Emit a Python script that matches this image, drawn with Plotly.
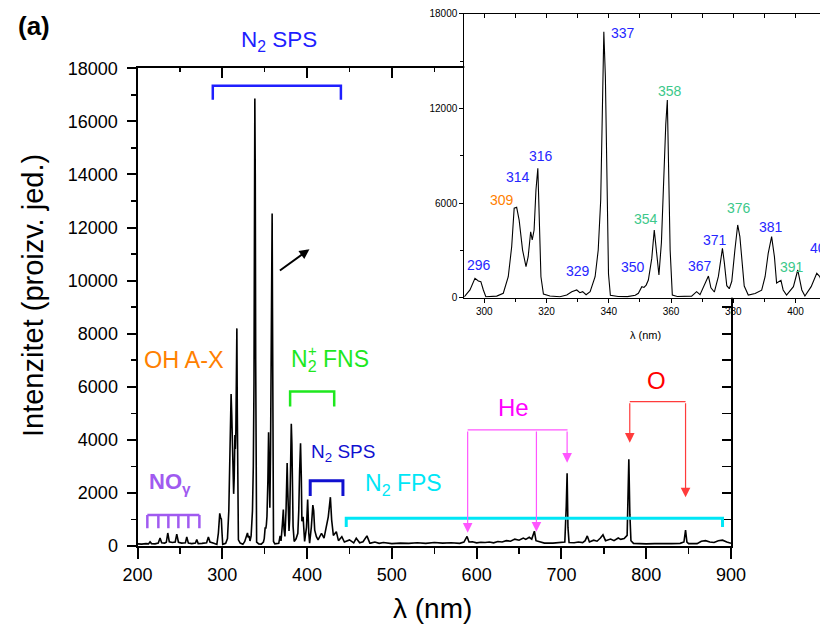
import plotly.graph_objects as go

# ---------------- data ----------------
# UV part, NO-gamma region
wl_uv = [200, 205, 210, 213, 214.8, 216.5, 220.7, 224.5, 226.6, 228.5, 232, 234, 235.7, 237.5,
         241, 244.5, 246.3, 248.3, 252, 256.5, 258.1, 260, 264, 268.3, 269.9, 271.6, 276,
         281.5, 283.6, 285.5, 290]
int_uv = [80, 70, 90, 80, 160, 90, 80, 110, 300, 120, 110, 140, 490, 160, 130, 150, 450, 140,
          110, 120, 340, 110, 90, 110, 240, 90, 100, 120, 340, 150, 100]

# N2 SPS / OH / N2+ FNS region (also shown in the inset)
wl_n2 = [293.6, 295.4, 297.0, 298.1, 298.9, 299.7, 300.5, 304.0, 306.1, 307.7, 308.8, 309.6,
         310.4, 311.2, 312.3, 313.4, 314.1, 314.9, 315.4, 316.0, 316.6, 317.2, 317.7, 318.2,
         319.0, 321.1, 324.3, 326.5, 328.1, 329.7, 330.7, 331.6, 332.7, 334.0, 335.6, 336.6,
         337.4, 338.0, 338.4, 338.9, 339.4, 339.9, 340.5, 343.0, 346.0, 348.5, 349.5, 350.6,
         351.3, 352.0, 352.7, 353.8, 354.6, 355.3, 356.1, 356.9, 357.7, 358.3, 358.8, 359.2,
         359.7, 360.4, 362.0, 366.6, 368.2, 369.3, 370.9, 372.0, 372.8, 373.9, 375.2, 376.0,
         376.5, 377.1, 377.9, 378.7, 379.5, 380.5, 381.4, 382.1, 382.7, 383.5, 384.8, 387.0,
         389.1, 390.2, 391.2, 392.3, 393.2, 393.9, 395.3, 396.0, 397.1, 399.3, 400.7, 402.0,
         403.0, 405.0, 406.8, 407.8, 409.0, 411.0, 413.0, 417.0, 420.0, 425.0, 427.5, 429.0,
         431.0, 434.5, 437.0, 441.0, 444.0, 450.0, 455.0, 458.0, 462.0, 466.0, 470.6, 474.0]
int_n2 = [60, 490, 1230, 1060, 1015, 490, 63, 100, 280, 1330, 3230, 5670,
          5730, 4920, 3020, 1965, 2600, 4180, 3660, 4290, 6830, 8200, 5130, 1330,
          235, 110, 63, 170, 380, 490, 320, 380, 190, 380, 1330, 3020,
          6190, 12500, 16860, 14000, 7000, 1500, 150, 80, 70, 150, 280, 700,
          650, 800, 1120, 2490, 4290, 3000, 1440, 3500, 8000, 11000, 12530, 9000,
          3020, 170, 80, 100, 380, 190, 830, 1370, 630, 360, 1350, 2650,
          3130, 2240, 760, 570, 1040, 3020, 4610, 3870, 2370, 740, 170, 270,
          480, 1330, 2810, 3870, 2600, 930, 1100, 490, 170, 700, 1755, 490,
          110, 700, 1545, 1330, 600, 350, 230, 480, 300, 1100, 1840, 980,
          400, 540, 200, 350, 150, 230, 120, 290, 120, 160, 380, 110]

# visible / near-IR part (He and O lines)
wl_vis = [475, 480, 485, 490, 500, 510, 520, 530, 540, 550, 560, 570, 580, 585, 588.7,
          591, 595, 600, 605, 610, 615, 620, 625, 630, 635, 640, 645, 650, 655, 658,
          662, 665, 668.1, 670, 675, 680, 690, 700, 704, 705.7, 706.7, 707.7, 709, 715, 720,
          725, 728, 730.5, 733, 738, 742, 746, 749, 752, 758, 762, 767, 770, 774, 777.5,
          779.5, 780.7, 782, 785, 790, 800, 810, 820, 830, 840, 844.5, 846.4, 848, 850, 860,
          865, 870, 875, 880, 885, 890, 895, 900]
int_vis = [110, 150, 100, 130, 90, 110, 100, 120, 100, 130, 110, 120, 100, 150, 360,
           150, 160, 120, 140, 130, 150, 120, 170, 150, 200, 180, 260, 220, 300, 250,
           330, 260, 560, 200, 140, 110, 110, 120, 150, 1500, 2740, 700, 130, 120, 150,
           130, 200, 380, 150, 220, 180, 300, 420, 200, 260, 200, 300, 250, 280, 400,
           3270, 1200, 200, 100, 90, 80, 90, 80, 90, 100, 150, 600, 150, 90, 90,
           180, 200, 150, 130, 200, 220, 150, 100]

wavelength = wl_uv + wl_n2 + wl_vis
intensity = int_uv + int_n2 + int_vis

x_ticks_main = [200, 300, 400, 500, 600, 700, 800, 900]
x_minor_main = [250, 350, 450, 550, 650, 750, 850]
y_ticks_main = [0, 2000, 4000, 6000, 8000, 10000, 12000, 14000, 16000, 18000]
y_minor_main = [1000, 3000, 5000, 7000, 9000, 11000, 13000, 15000, 17000]
x_ticks_inset = [300, 320, 340, 360, 380, 400]
x_minor_inset = [310, 330, 350, 370, 390]
y_ticks_inset = [0, 6000, 12000, 18000]
y_minor_inset = [3000, 9000, 15000]

inset_labels = ["296", "309", "314", "316", "329", "337", "350", "354", "358",
                "367", "371", "376", "381", "391", "406"]
inset_label_kind = ["b", "o", "b", "b", "b", "b", "b", "g", "g",
                    "b", "b", "g", "b", "g", "b"]
inset_label_x = [298.4, 305.8, 310.8, 318.2, 330.0, 344.7, 347.9, 352.0, 359.8,
                 369.2, 374.0, 381.8, 392.0, 398.9, 404.0]
inset_label_y = [2072, 6192, 7669, 8981, 1711, 16758, 1965, 4969, 13120,
                 2009, 3657, 5704, 4500, 1965, 3131]

# ---------------- figure ----------------
W, H = 820, 638
FONT = "Arial, Liberation Sans, sans-serif"


def px(X):
    return X / W


def py(Y):
    return 1 - Y / H


BLUE = "#1f1fff"
ORANGE = "#ff8000"
GREEN = "#1ee81e"
PURPLE = "#a05af0"
DBLUE = "#1010d0"
CYAN = "#00e6f6"
MAGENTA = "#ff00ff"
MAG_LINE = "#ff55ff"
RED = "#ff0000"
RED_LINE = "#ff3b3b"
INSET_COL = {"b": "#2626ff", "o": "#ff8000", "g": "#3cc88a"}

fig = go.Figure()
fig.add_trace(go.Scatter(x=wavelength, y=intensity, mode="lines",
                         line=dict(color="black", width=1.6),
                         xaxis="x", yaxis="y", hoverinfo="skip"))
fig.add_trace(go.Scatter(x=[None], y=[None], xaxis="x3", yaxis="y3", hoverinfo="skip"))
fig.add_trace(go.Scatter(x=wavelength, y=intensity, mode="lines",
                         line=dict(color="black", width=1.1),
                         xaxis="x2", yaxis="y2", hoverinfo="skip"))
fig.add_trace(go.Scatter(x=[None], y=[None], xaxis="x4", yaxis="y2", hoverinfo="skip"))

main_xdom = [px(137.5), px(731)]
main_ydom = [py(546), py(68.3)]
ins_xdom = [px(464.3), 1.0]
ins_ydom = [py(297.7), py(13.7)]
ins_xrange = [293.58, 407.84]

axis_common = dict(showgrid=False, zeroline=False, fixedrange=True, color="black",
                   automargin=False)

fig.update_layout(
    width=W, height=H,
    margin=dict(l=0, r=0, t=0, b=0, autoexpand=False),
    paper_bgcolor="white", plot_bgcolor="white",
    showlegend=False,
    font=dict(family=FONT, color="black"),
    xaxis=dict(domain=main_xdom, range=[200, 900], anchor="y",
               showline=True, linecolor="black", linewidth=2,
               ticks="outside", ticklen=11, tickwidth=2, tickcolor="black",
               tickvals=x_ticks_main, ticktext=[str(v) for v in x_ticks_main],
               tickfont=dict(size=18, family=FONT),
               minor=dict(ticks="outside", ticklen=6, tickwidth=1.5, tickcolor="black",
                          tickvals=x_minor_main),
               **axis_common),
    yaxis=dict(domain=main_ydom, range=[0, 18000], anchor="x",
               showline=True, linecolor="black", linewidth=2,
               ticks="outside", ticklen=9, tickwidth=2, tickcolor="black",
               tickvals=y_ticks_main, ticktext=[str(v) for v in y_ticks_main],
               tickfont=dict(size=18, family=FONT), ticklabelstandoff=5,
               minor=dict(ticks="outside", ticklen=5, tickwidth=1.5, tickcolor="black",
                          tickvals=y_minor_main),
               **axis_common),
    xaxis3=dict(overlaying="x", side="top", anchor="y3", range=[200, 900],
                showline=True, linecolor="black", linewidth=2,
                ticks="inside", ticklen=10, tickwidth=2, tickcolor="black",
                tickvals=x_ticks_main, showticklabels=False,
                minor=dict(ticks="inside", ticklen=4, tickwidth=1.5, tickcolor="black",
                           tickvals=x_minor_main),
                **axis_common),
    yaxis3=dict(overlaying="y", side="right", anchor="x3", range=[0, 18000],
                showline=True, linecolor="black", linewidth=2,
                ticks="inside", ticklen=9, tickwidth=2, tickcolor="black",
                tickvals=y_ticks_main, showticklabels=False,
                minor=dict(ticks="inside", ticklen=9, tickwidth=1.5, tickcolor="black",
                           tickvals=y_minor_main),
                **axis_common),
    xaxis2=dict(domain=ins_xdom, range=ins_xrange, anchor="y2",
                showline=True, linecolor="black", linewidth=1,
                ticks="outside", ticklen=4, tickwidth=1, tickcolor="black",
                tickvals=x_ticks_inset, ticktext=[str(v) for v in x_ticks_inset],
                tickfont=dict(size=10, family=FONT),
                minor=dict(ticks="outside", ticklen=3, tickwidth=1, tickcolor="black",
                           tickvals=x_minor_inset),
                **axis_common),
    yaxis2=dict(domain=ins_ydom, range=[0, 18000], anchor="x2",
                showline=True, linecolor="black", linewidth=1,
                ticks="outside", ticklen=4, tickwidth=1, tickcolor="black",
                tickvals=y_ticks_inset, ticktext=[str(v) for v in y_ticks_inset],
                tickfont=dict(size=10, family=FONT),
                minor=dict(ticks="outside", ticklen=3, tickwidth=1, tickcolor="black",
                           tickvals=y_minor_inset),
                **axis_common),
    xaxis4=dict(overlaying="x2", side="top", anchor="y2", range=ins_xrange,
                showline=True, linecolor="black", linewidth=1,
                ticks="inside", ticklen=4, tickwidth=1, tickcolor="black",
                tickvals=x_ticks_inset, showticklabels=False,
                minor=dict(ticks="inside", ticklen=4, tickwidth=1, tickcolor="black",
                           tickvals=x_minor_inset),
                **axis_common),
)

shapes = []


def bracket(x0, x1, ytop, ybot, color, width):
    return dict(type="path", xref="x", yref="y",
                path=f"M {x0},{ybot} L {x0},{ytop} L {x1},{ytop} L {x1},{ybot}",
                line=dict(color=color, width=width))


# N2 SPS (top)
shapes.append(bracket(288.8, 439.9, 17342, 16814, BLUE, 2.5))
# N2+ FNS
shapes.append(bracket(380.0, 432.0, 5817, 5252, GREEN, 2.5))
# small N2 SPS
shapes.append(bracket(403.7, 442.3, 2462, 1885, DBLUE, 3))
# N2 FPS
shapes.append(bracket(446.2, 890.0, 1044, 716, CYAN, 3))
# NO gamma comb
comb_x = [211.6, 224.6, 236.4, 248.2, 260.0, 273.0]
comb_path = f"M {comb_x[0]},1169 L {comb_x[-1]},1169"
for cx in comb_x:
    comb_path += f" M {cx},1169 L {cx},667"
shapes.append(dict(type="path", xref="x", yref="y", path=comb_path,
                   line=dict(color=PURPLE, width=2.5)))
# He and O horizontal connectors
shapes.append(dict(type="line", xref="x", yref="y", x0=589.4, x1=707.2, y0=4373, y1=4373,
                   line=dict(color=MAG_LINE, width=1.2)))
shapes.append(dict(type="line", xref="x", yref="y", x0=780.6, x1=846.4, y0=5440, y1=5440,
                   line=dict(color=RED_LINE, width=1.2)))
fig.update_layout(shapes=shapes)

ann = []


def text(x, y, t, size, color, xref="x", yref="y", **kw):
    d = dict(x=x, y=y, xref=xref, yref=yref, text=t, showarrow=False,
             font=dict(size=size, color=color, family=FONT),
             xanchor="center", yanchor="middle")
    d.update(kw)
    return d


def arrow(xt, yt, xtail, ytail, color, width, size, head=2):
    return dict(x=xt, y=yt, ax=xtail, ay=ytail, xref="x", yref="y", axref="x", ayref="y",
                text="", showarrow=True, arrowhead=head, arrowsize=size,
                arrowwidth=width, arrowcolor=color, standoff=0, startstandoff=0)


ann.append(text(px(33.5), py(26), "<b>(a)</b>", 26, "black", xref="paper", yref="paper"))
ann.append(text(366.9, py(41), "N<sub>2</sub> SPS", 22.5, BLUE, yref="paper"))
ann.append(text(255.1, 7012, "OH A-X", 23.5, ORANGE))
ann.append(text(427.6, 6975, "N<sub>2</sub> FNS", 23, GREEN))
ann.append(text(406.0, 7380, "+", 15, GREEN))
ann.append(text(238.9, 2356, "<b>NO<sub>γ</sub></b>", 22, PURPLE))
ann.append(text(441.8, 3506, "N<sub>2</sub> SPS", 19, DBLUE))
ann.append(text(514.3, 2300, "N<sub>2</sub> FPS", 23, CYAN))
ann.append(text(643.2, 5221, "He", 24, MAGENTA))
ann.append(text(812.1, 6220, "O", 24, RED))

# arrows
ann.append(arrow(402.8, 11185, 366.2, 10341, "black", 2, 1.0))
for xt, yt in [(589.4, 502), (670.5, 540), (706.7, 3141)]:
    ann.append(arrow(xt, yt, xt, 4373, MAG_LINE, 1.2, 1.6))
for xt, yt in [(780.6, 3895), (846.4, 1836)]:
    ann.append(arrow(xt, yt, xt, 5440, RED_LINE, 1.2, 1.6))

# axis titles
ann.append(text(px(33), py(296), "Intenzitet (proizv. jed.)", 29, "black",
                xref="paper", yref="paper", textangle=-90))
ann.append(text(px(432), py(608), "λ (nm)", 28, "black", xref="paper", yref="paper"))

# inset labels
for t, k, lx, ly in zip(inset_labels, inset_label_kind, inset_label_x, inset_label_y):
    anchor = "left" if t == "406" else "center"
    ann.append(text(lx, ly, t, 14, INSET_COL[k], xref="x2", yref="y2", xanchor=anchor))
ann.append(text(px(645), py(335), "λ (nm)", 11, "black", xref="paper", yref="paper"))

fig.update_layout(annotations=ann)

fig.write_html("out.html",
               config={"displayModeBar": False, "staticPlot": True},
               post_script="document.body.style.margin='0px';"
                           "document.body.style.overflow='hidden';")
